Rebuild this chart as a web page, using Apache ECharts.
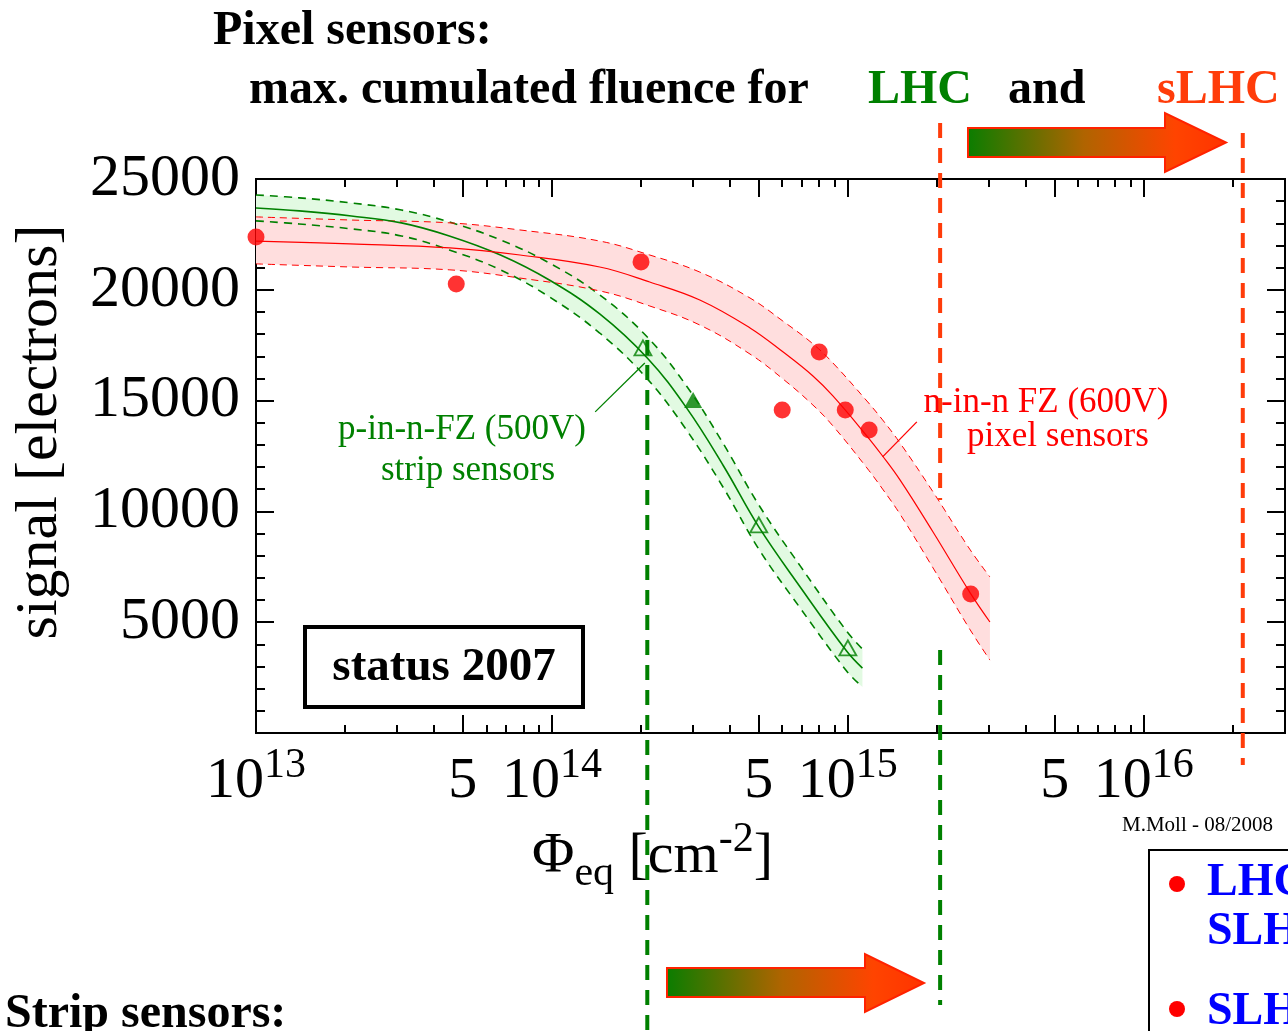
<!DOCTYPE html>
<html><head><meta charset="utf-8">
<script src="https://cdn.jsdelivr.net/npm/echarts@6/dist/echarts.min.js"></script>
<style>html,body{margin:0;padding:0;background:#fff;overflow:hidden}#c{width:1288px;height:1031px}</style>
</head><body><div id="c"></div>
<script>
const SERIF = '"Liberation Serif", "Times New Roman", serif';
const GREEN = '#008000', RED = '#ff0000', ORANGE = '#ff3c0a';

// ---- measured data: n-in-n FZ (600V) pixel sensors ----
const pixelFluence = [1e13, 4.75e13, 2.0e14, 6.0e14, 8.0e14, 9.8e14, 1.18e15, 2.6e15];
const pixelSignal  = [22380, 20260, 21260, 14580, 17190, 14580, 13670, 6270];
// fit curve and error band
const pixelFitFluence = [1e13, 2.08e13, 4.52e13, 7.8e13, 1.45e14, 2.14e14, 3.16e14, 4.67e14, 6.03e14, 7.62e14, 8.9e14, 1.16e15, 1.31e15, 1.5e15, 1.94e15, 2.58e15, 3.02e15];
const pixelFitSignal  = [22200, 22070, 21890, 21570, 21030, 20350, 19540, 18280, 17200, 16110, 15210, 13400, 12500, 11420, 9070, 6360, 5010];
const pixelFitUpper   = [23290, 23150, 23020, 22700, 22200, 21570, 20800, 19630, 18590, 17560, 16700, 14980, 14130, 13090, 10880, 8300, 7040];
const pixelFitLower   = [21170, 21030, 20900, 20530, 19950, 19270, 18410, 17100, 15980, 14800, 13860, 11960, 11010, 9880, 7450, 4690, 3290];

// ---- measured data: p-in-n-FZ (500V) strip sensors ----
const stripOpenFluence   = [2.03e14, 5.0e14, 1.0e15];
const stripOpenSignal    = [17380, 9390, 3840];
const stripFilledFluence = [3.0e14];
const stripFilledSignal  = [15030];
const stripFitFluence = [1e13, 1.4e13, 2.1e13, 3.1e13, 4.5e13, 6.7e13, 9.8e13, 1.45e14, 2.1e14, 2.85e14, 3.8e14, 5.0e14, 6.9e14, 9.9e14, 1.12e15];
const stripFitSignal  = [23690, 23560, 23330, 23020, 22430, 21570, 20440, 18910, 16920, 14670, 12050, 9300, 6590, 3700, 2930];
const stripFitUpper   = [24280, 24150, 23920, 23600, 23060, 22250, 21210, 19770, 17870, 15660, 13040, 10290, 7540, 4600, 3790];
const stripFitLower   = [23110, 22970, 22750, 22430, 21800, 20900, 19680, 18050, 15980, 13670, 11060, 8300, 5640, 2800, 2080];

// ---- fluence limits (vertical dashed markers) ----
const stripLHC   = {x: 2.1e14,  y: [17740, -13500]};
const stripSLHC  = {x: 2.05e15, y: [3750, -12280]};
const pixelLHC   = {x: 2.05e15, y: [27530, 10520]};
const pixelSLHC  = {x: 2.16e16, y: [27080, -1440]};

// annotation leader lines (data space)
const stripLeader = [[1.4e14, 14490], [2.06e14, 16700]];
const pixelLeader = [[1.71e15, 14040], [1.31e15, 12460]];

// axis ticks
const xMajorTicks = [1e13, 5e13, 1e14, 5e14, 1e15, 5e15, 1e16];
const xMinorTicks = [2e13,3e13,4e13,6e13,7e13,8e13,9e13, 2e14,3e14,4e14,6e14,7e14,8e14,9e14, 2e15,3e15,4e15,6e15,7e15,8e15,9e15, 2e16];
const yMin = 0, yMax = 25000, yStep = 5000;

const SMOOTH = 0.4;
const pairs = (xs, ys) => xs.map((x, i) => [x, ys[i]]);
// [signal, fluence] order so that the stack runs on the signal dimension
const swapped = (xs, ys) => xs.map((x, i) => [ys[i], x]);
const diff = (a, b) => a.map((v, i) => v - b[i]);

function xAxisCfg(pos, ticks, len, showLabel) {
  return {
    type: 'log', logBase: 10, min: 1e13, max: 3e16, position: pos,
    axisLine: {show: true, onZero: false, lineStyle: {color: '#000', width: 2}},
    axisTick: {show: true, inside: true, length: len, customValues: ticks, lineStyle: {color: '#000', width: 2}},
    axisLabel: showLabel ? {
      show: true, customValues: ticks, margin: 12,
      formatter: function (v) {
        const e = Math.floor(Math.log10(v) + 1e-9);
        const m = Math.round(v / Math.pow(10, e));
        return m === 1 ? '{b|10}{s|' + e + '}' : '{b|' + m + '}';
      },
      rich: {
        b: {fontSize: 58, fontFamily: SERIF, color: '#000', lineHeight: 66, verticalAlign: 'bottom'},
        s: {fontSize: 42, fontFamily: SERIF, color: '#000', lineHeight: 40, verticalAlign: 'top'}
      }
    } : {show: false},
    splitLine: {show: false}, minorTick: {show: false}, minorSplitLine: {show: false}
  };
}
function yAxisCfg(pos, showLabel) {
  return {
    type: 'value', min: yMin, max: yMax, interval: yStep, position: pos,
    axisLine: {show: true, onZero: false, lineStyle: {color: '#000', width: 2}},
    axisTick: {show: true, inside: true, length: 18, lineStyle: {color: '#000', width: 2}},
    minorTick: {show: true, splitNumber: 5, length: 9, lineStyle: {color: '#000', width: 2}},
    axisLabel: showLabel ? {show: true, fontSize: 60, fontFamily: SERIF, color: '#000', margin: 16,
      formatter: v => v === 0 ? '' : String(v)} : {show: false},
    splitLine: {show: false}
  };
}

const chart = echarts.init(document.getElementById('c'), null, {renderer: 'canvas', width: 1288, height: 1031});

const vline = (o, color) => ({
  type: 'line', data: [[o.x, o.y[0]], [o.x, o.y[1]]], clip: false, symbol: 'none', z: 10, silent: true,
  lineStyle: {color: color, width: 4, type: [15, 10]}
});
const leader = (d, color) => ({
  type: 'line', data: d, symbol: 'none', z: 6, silent: true, lineStyle: {color: color, width: 1.3}
});
const bandBase = (stack, xs, lower, z) => ({
  type: 'line', stack: stack, data: swapped(xs, lower), encode: {x: 1, y: 0}, symbol: 'none', z: z, silent: true,
  smooth: SMOOTH, lineStyle: {opacity: 0, width: 0}
});
const bandFill = (stack, xs, upper, lower, color, z) => ({
  type: 'line', stack: stack, data: swapped(xs, diff(upper, lower)), encode: {x: 1, y: 0}, symbol: 'none', z: z, silent: true,
  smooth: SMOOTH, lineStyle: {opacity: 0, width: 0}, areaStyle: {color: color, opacity: 1}
});
const curve = (xs, ys, color, width, dash, z) => ({
  type: 'line', data: pairs(xs, ys), symbol: 'none', z: z, silent: true, smooth: SMOOTH,
  lineStyle: {color: color, width: width, type: dash || 'solid'}
});

const arrow = (x0, xb, x1, yt, yb, ht, hb) => ({
  type: 'polygon', z: 100,
  shape: {points: [[x0, yt], [xb, yt], [xb, ht], [x1, (ht + hb) / 2], [xb, hb], [xb, yb], [x0, yb]]},
  style: {
    fill: {type: 'linear', x: 0, y: 0, x2: 1, y2: 0, colorStops: [
      {offset: 0, color: '#0a7d00'}, {offset: 0.45, color: '#b06400'}, {offset: 0.8, color: '#ff4400'}, {offset: 1, color: '#ff3300'}]},
    stroke: '#ff2200', lineWidth: 2
  }
});
const txt = (x, y, text, font, fill, align, extra) => Object.assign({
  type: 'text', x: x, y: y, z: 100,
  style: {text: text, font: font, fill: fill, align: align || 'left', verticalAlign: 'middle'}
}, extra || {});

chart.setOption({
  animation: false,
  backgroundColor: '#fff',
  grid: {left: 256, top: 179, width: 1029, height: 554, containLabel: false},
  xAxis: [
    xAxisCfg('bottom', xMajorTicks, 18, true),
    xAxisCfg('bottom', xMinorTicks, 8, false),
    xAxisCfg('top', xMajorTicks, 18, false),
    xAxisCfg('top', xMinorTicks, 8, false)
  ],
  yAxis: [yAxisCfg('left', true), yAxisCfg('right', false)],
  series: [
    // error bands
    bandBase('sb', stripFitFluence, stripFitLower, 1),
    bandFill('sb', stripFitFluence, stripFitUpper, stripFitLower, '#e2fae2', 1),
    bandBase('pb', pixelFitFluence, pixelFitLower, 2),
    bandFill('pb', pixelFitFluence, pixelFitUpper, pixelFitLower, '#ffdede', 2),
    // band edges
    curve(stripFitFluence, stripFitUpper, GREEN, 1.6, [8, 6], 4),
    curve(stripFitFluence, stripFitLower, GREEN, 1.6, [8, 6], 4),
    curve(pixelFitFluence, pixelFitUpper, RED, 1, [7, 5], 4),
    curve(pixelFitFluence, pixelFitLower, RED, 1, [7, 5], 4),
    // fit curves
    curve(stripFitFluence, stripFitSignal, GREEN, 1.6, null, 5),
    curve(pixelFitFluence, pixelFitSignal, RED, 1.2, null, 5),
    // measurements
    {type: 'scatter', data: pairs(pixelFluence, pixelSignal), symbol: 'circle', symbolSize: 17, z: 7, itemStyle: {color: RED}},
    {type: 'scatter', data: pairs(stripOpenFluence, stripOpenSignal), symbol: 'triangle', symbolSize: [17, 15], z: 7,
      itemStyle: {color: 'rgba(0,0,0,0)', borderColor: GREEN, borderWidth: 1.8}},
    {type: 'scatter', data: pairs(stripFilledFluence, stripFilledSignal), symbol: 'triangle', symbolSize: [18, 16], z: 7,
      itemStyle: {color: GREEN}},
    // leader lines
    leader(stripLeader, GREEN),
    leader(pixelLeader, RED),
    // fluence limits
    vline(stripLHC, GREEN),
    vline(stripSLHC, GREEN),
    vline(pixelLHC, ORANGE),
    vline(pixelSLHC, ORANGE)
  ],
  graphic: [
    txt(213, 32, 'Pixel sensors:', 'bold 48px ' + SERIF, '#000'),
    txt(249, 91, 'max. cumulated fluence for', 'bold 48px ' + SERIF, '#000'),
    txt(868, 91, 'LHC', 'bold 48px ' + SERIF, GREEN),
    txt(1008, 91, 'and', 'bold 48px ' + SERIF, '#000'),
    txt(1157, 91, 'sLHC', 'bold 48px ' + SERIF, ORANGE),
    txt(5, 1015, 'Strip sensors:', 'bold 48px ' + SERIF, '#000'),
    arrow(968, 1165, 1226, 128, 157, 113, 172),
    arrow(667, 865, 924, 968, 997, 954, 1012),
    txt(40, 432, 'signal [electrons]', '60px ' + SERIF, '#000', 'center', {rotation: Math.PI / 2}),
    {type: 'text', x: 532, y: 819, z: 100, style: {
      text: '{a|Φ}{sub|eq}{a| [cm}{sup|-2}{a|]}', align: 'left', verticalAlign: 'top', fill: '#000',
      rich: {
        a: {fontSize: 58, fontFamily: SERIF, lineHeight: 76, fill: '#000'},
        sub: {fontSize: 42, fontFamily: SERIF, lineHeight: 34, verticalAlign: 'bottom', fill: '#000'},
        sup: {fontSize: 42, fontFamily: SERIF, lineHeight: 38, verticalAlign: 'top', fill: '#000'}
      }}},
    txt(1122, 825, 'M.Moll - 08/2008', '21px ' + SERIF, '#000'),
    txt(462, 430, 'p-in-n-FZ (500V)', '35px ' + SERIF, GREEN, 'center'),
    txt(468, 471, 'strip sensors', '35px ' + SERIF, GREEN, 'center'),
    txt(1046, 403, 'n-in-n FZ (600V)', '35px ' + SERIF, RED, 'center'),
    txt(1058, 437, 'pixel sensors', '35px ' + SERIF, RED, 'center'),
    {type: 'rect', z: 90, shape: {x: 305, y: 627, width: 278, height: 80}, style: {fill: '#fff', stroke: '#000', lineWidth: 4}},
    txt(444, 668, 'status 2007', 'bold 47px ' + SERIF, '#000', 'center'),
    {type: 'rect', z: 90, shape: {x: 1149, y: 850, width: 300, height: 300}, style: {fill: '#fff', stroke: '#000', lineWidth: 2}},
    {type: 'circle', z: 100, shape: {cx: 1177, cy: 884, r: 8}, style: {fill: RED}},
    {type: 'circle', z: 100, shape: {cx: 1177, cy: 1009, r: 8}, style: {fill: RED}},
    txt(1207, 883, 'LHC', 'bold 46px ' + SERIF, '#0000ff'),
    txt(1207, 932, 'SLHC', 'bold 46px ' + SERIF, '#0000ff'),
    txt(1207, 1012, 'SLHC', 'bold 46px ' + SERIF, '#0000ff')
  ]
});
</script>
</body></html>
